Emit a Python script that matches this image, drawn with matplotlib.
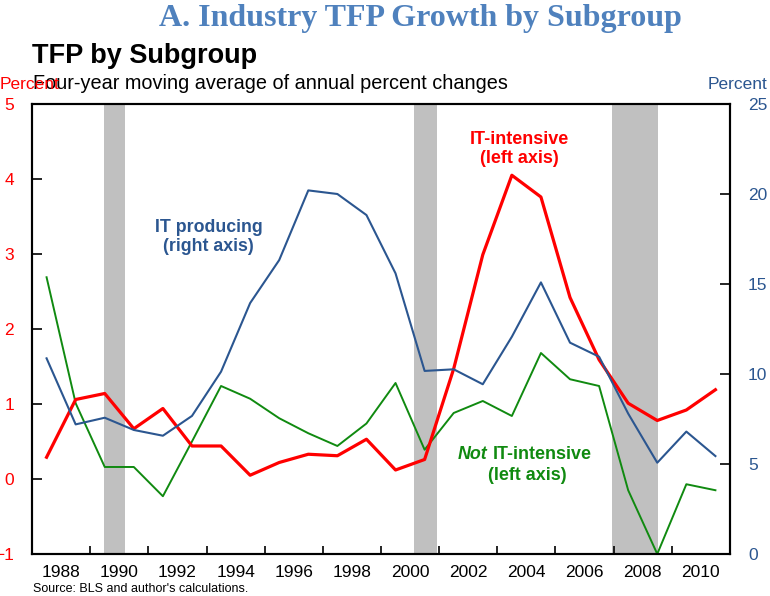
import matplotlib.pyplot as plt

# annual points (four-year moving averages)
years = list(range(1987, 2011))

it_intensive = [0.29, 1.06, 1.14, 0.67, 0.94, 0.44, 0.44, 0.05, 0.22, 0.33, 0.31, 0.53,
                0.12, 0.26, 1.47, 2.99, 4.05, 3.76, 2.42, 1.59, 1.01, 0.78, 0.92, 1.19]
not_it_intensive = [2.69, 1.01, 0.16, 0.16, -0.23, 0.50, 1.24, 1.07, 0.81, 0.61, 0.44, 0.74,
                    1.28, 0.39, 0.88, 1.04, 0.84, 1.68, 1.33, 1.24, -0.15, -1.0, -0.07, -0.15]
it_producing = [10.87, 7.2, 7.57, 6.89, 6.57, 7.67, 10.13, 13.94, 16.33, 20.2, 20.0, 18.83,
                15.59, 10.17, 10.26, 9.43, 12.07, 15.09, 11.74, 10.96, 7.8, 5.07, 6.8, 5.44]

# recession bands
recessions = [(1989.46, 1990.21), (2000.15, 2000.92), (2006.95, 2008.54)]

RED = "#ff0000"
BLUE = "#2b5690"
GREEN = "#108a10"

plt.rcParams["font.family"] = ["Liberation Sans", "DejaVu Sans"]

fig = plt.figure(figsize=(7.7, 5.96), dpi=100)
ax = fig.add_axes([0.0416, 0.0705, 0.9064, 0.755])
ax2 = ax.twinx()

for start, end in recessions:
    ax.axvspan(start, end, color="#c0c0c0", lw=0, zorder=0)

x = [y + 0.5 for y in years]
ax.plot(x, not_it_intensive, color=GREEN, lw=1.4, zorder=3)
ax.plot(x, it_intensive, color=RED, lw=2.3, zorder=4)
ax2.plot(x, it_producing, color=BLUE, lw=1.5)

ax.set_xlim(1987, 2011)
ax.set_ylim(-1, 5)
ax2.set_ylim(0, 25)
ax.set_yticks(range(-1, 6))
ax2.set_yticks(range(0, 30, 5))

# labels sit on even years, tick marks on odd years
ax.set_xticks(range(1988, 2011, 2))
ax.set_xticks(range(1989, 2010, 2), minor=True)
ax.tick_params(axis="x", which="major", length=0, pad=8, labelsize=12.5)
ax.tick_params(axis="x", which="minor", direction="in", length=6, width=1.2)
ax.tick_params(axis="y", direction="in", length=7, width=1.2, labelsize=12.5,
               labelcolor=RED, pad=13)
ax2.tick_params(axis="y", direction="in", length=7, width=1.2, labelsize=12.5,
                labelcolor=BLUE, pad=13)
for a in (ax, ax2):
    for s in a.spines.values():
        s.set_linewidth(1.5)

fig.text(0.2065, 0.956, "A. Industry TFP Growth by Subgroup", family="Liberation Serif",
         fontsize=23, fontweight="bold", color="#4f81bd", va="baseline")
fig.text(0.042, 0.894, "TFP by Subgroup", fontsize=19.5, fontweight="bold", va="baseline")
fig.text(0.043, 0.851, "Four-year moving average of annual percent changes", fontsize=14.3,
         va="baseline")
fig.text(0.0, 0.851, "Percent", fontsize=12.5, color=RED, va="baseline")
fig.text(0.997, 0.851, "Percent", fontsize=12.5, color=BLUE, va="baseline", ha="right")
fig.text(0.043, 0.0065, "Source: BLS and author's calculations.", fontsize=9)

ax.text(0.253, 0.704, "IT producing\n(right axis)", transform=ax.transAxes, color=BLUE,
        fontsize=12.8, fontweight="bold", ha="center", va="center", linespacing=1.2)
ax.text(0.698, 0.9, "IT-intensive\n(left axis)", transform=ax.transAxes, color=RED,
        fontsize=13, fontweight="bold", ha="center", va="center", linespacing=1.2)
ax.text(0.653, 0.222, "Not", transform=ax.transAxes, color=GREEN, fontsize=12.9,
        fontweight="bold", style="italic", ha="right", va="center")
ax.text(0.66, 0.222, "IT-intensive", transform=ax.transAxes, color=GREEN,
        fontsize=12.9, fontweight="bold", ha="left", va="center")
ax.text(0.709, 0.175, "(left axis)", transform=ax.transAxes, color=GREEN,
        fontsize=12.9, fontweight="bold", ha="center", va="center")

fig.savefig("out.png", dpi=100)
